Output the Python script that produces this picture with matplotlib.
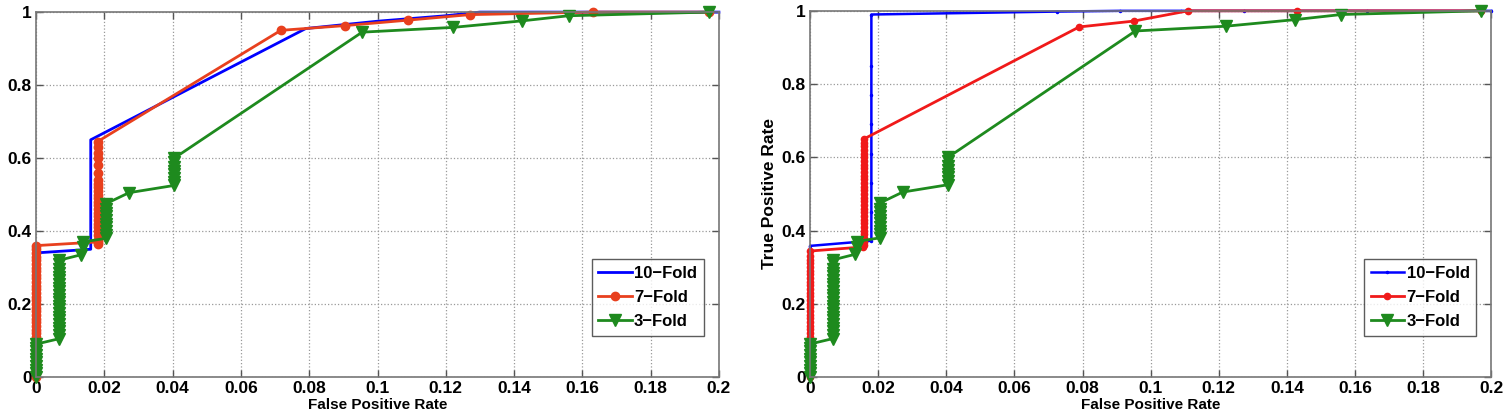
import matplotlib
matplotlib.use("Agg")
import matplotlib.pyplot as plt

plt.rcParams['font.family'] = ['Liberation Sans', 'DejaVu Sans']
plt.rcParams['font.weight'] = 'bold'

# ---- left panel ----
blue_l_x = [0.0, 0.0, 0.016, 0.016, 0.079, 0.100, 0.120, 0.130, 0.200]
blue_l_y = [0.0, 0.34, 0.35, 0.65, 0.955, 0.975, 0.99, 1.0, 1.0]

red_l_x = [0.0, 0.0, 0.0, 0.0, 0.0, 0.0, 0.0, 0.0, 0.0, 0.0, 0.0, 0.0, 0.0, 0.0, 0.0, 0.0, 0.0, 0.0, 0.0,
           0.0, 0.0, 0.0, 0.0, 0.0, 0.0, 0.0, 0.0, 0.0, 0.0, 0.0, 0.0, 0.0, 0.0, 0.0, 0.0, 0.0, 0.0,
           0.018, 0.018, 0.018, 0.018, 0.018, 0.018, 0.018, 0.018, 0.018, 0.018, 0.018, 0.018, 0.018, 0.018,
           0.018, 0.018, 0.018, 0.018, 0.018, 0.018, 0.018, 0.018, 0.018, 0.018, 0.018,
           0.0717, 0.0905, 0.109, 0.127, 0.163, 0.197]
red_l_y = [0.0, 0.01, 0.02, 0.03, 0.04, 0.05, 0.06, 0.07, 0.08, 0.09, 0.10, 0.11, 0.12, 0.13, 0.14, 0.15, 0.16, 0.17, 0.18,
           0.19, 0.20, 0.21, 0.22, 0.23, 0.24, 0.25, 0.26, 0.27, 0.28, 0.29, 0.30, 0.31, 0.32, 0.33, 0.34, 0.35, 0.36,
           0.37, 0.365, 0.375, 0.39, 0.40, 0.41, 0.42, 0.43, 0.44, 0.45, 0.46, 0.47, 0.48, 0.49,
           0.50, 0.51, 0.52, 0.53, 0.54, 0.56, 0.58, 0.60, 0.615, 0.63, 0.645,
           0.95, 0.963, 0.978, 0.993, 1.0, 1.0]

# 3-Fold curve is the same in both panels
green_x = [0.0, 0.0, 0.0, 0.0, 0.0, 0.0, 0.0, 0.0, 0.0, 0.0,
           0.0068, 0.0068, 0.0068, 0.0068, 0.0068, 0.0068, 0.0068, 0.0068, 0.0068, 0.0068, 0.0068, 0.0068,
           0.0068, 0.0068, 0.0068, 0.0068, 0.0068, 0.0068, 0.0068, 0.0068, 0.0068, 0.0068,
           0.0132, 0.0137, 0.0137, 0.0205, 0.0205, 0.0205, 0.0205, 0.0205, 0.0205, 0.0205, 0.0205, 0.0205, 0.0205,
           0.0272, 0.0405, 0.0405, 0.0405, 0.0405, 0.0405, 0.0405, 0.0405, 0.0405,
           0.0955, 0.122, 0.1424, 0.156, 0.197]
green_y = [0.0, 0.01, 0.02, 0.03, 0.04, 0.05, 0.06, 0.07, 0.08, 0.09,
           0.105, 0.115, 0.125, 0.135, 0.145, 0.155, 0.165, 0.175, 0.185, 0.195, 0.205, 0.215,
           0.225, 0.235, 0.245, 0.255, 0.265, 0.275, 0.285, 0.295, 0.31, 0.32,
           0.335, 0.355, 0.37, 0.38, 0.39, 0.40, 0.41, 0.42, 0.43, 0.44, 0.45, 0.46, 0.475,
           0.505, 0.525, 0.535, 0.545, 0.555, 0.565, 0.575, 0.59, 0.60,
           0.945, 0.958, 0.976, 0.99, 1.0]

# ---- right panel ----
blue_r_x = [0.0, 0.0, 0.0, 0.0, 0.0, 0.018, 0.018, 0.018, 0.018, 0.018, 0.018, 0.018, 0.018,
            0.0725, 0.091, 0.109, 0.1275, 0.1636, 0.2]
blue_r_y = [0.0, 0.09, 0.18, 0.27, 0.358, 0.372, 0.45, 0.53, 0.61, 0.69, 0.77, 0.85, 0.99,
            0.998, 1.0, 1.0, 1.0, 1.0, 1.0]

red_r_x = [0.0, 0.0, 0.0, 0.0, 0.0, 0.0, 0.0, 0.0, 0.0, 0.0, 0.0, 0.0, 0.0, 0.0, 0.0, 0.0, 0.0, 0.0,
           0.0, 0.0, 0.0, 0.0, 0.0, 0.0, 0.0, 0.0, 0.0, 0.0, 0.0, 0.0, 0.0, 0.0, 0.0, 0.0, 0.0,
           0.0155, 0.0158, 0.0158, 0.0158, 0.0158, 0.0158, 0.0158, 0.0158, 0.0158, 0.0158, 0.0158, 0.0158,
           0.0158, 0.0158, 0.0158, 0.0158, 0.0158, 0.0158, 0.0158, 0.0158, 0.0158, 0.0158, 0.0158, 0.0158,
           0.0158, 0.0158, 0.0158, 0.0158, 0.0158, 0.0158, 0.0158,
           0.079, 0.095, 0.111, 0.143, 0.197]
red_r_y = [0.0, 0.01, 0.02, 0.03, 0.04, 0.05, 0.06, 0.07, 0.08, 0.09, 0.10, 0.11, 0.12, 0.13, 0.14, 0.15, 0.16, 0.17,
           0.18, 0.19, 0.20, 0.21, 0.22, 0.23, 0.24, 0.25, 0.26, 0.27, 0.28, 0.29, 0.30, 0.31, 0.32, 0.33, 0.344,
           0.355, 0.36, 0.37, 0.38, 0.39, 0.40, 0.41, 0.42, 0.43, 0.44, 0.45, 0.46,
           0.47, 0.48, 0.49, 0.50, 0.51, 0.52, 0.53, 0.54, 0.55, 0.56, 0.57, 0.58,
           0.59, 0.60, 0.61, 0.62, 0.63, 0.64, 0.65,
           0.956, 0.972, 1.0, 1.0, 1.0]

labels = ['10\u2212Fold', '7\u2212Fold', '3\u2212Fold']
xticks = [0, 0.02, 0.04, 0.06, 0.08, 0.1, 0.12, 0.14, 0.16, 0.18, 0.2]
xticklabels = ['0', '0.02', '0.04', '0.06', '0.08', '0.1', '0.12', '0.14', '0.16', '0.18', '0.2']
yticks = [0, 0.2, 0.4, 0.6, 0.8, 1]
yticklabels = ['0', '0.2', '0.4', '0.6', '0.8', '1']

blue = '#0000ff'
green = '#1e8a1e'
red_left = '#e8401e'
red_right = '#f01a1a'

fig = plt.figure(figsize=(15.04, 4.17), dpi=100)
ax1 = fig.add_axes([0.024, 0.096, 0.454, 0.875])
ax2 = fig.add_axes([0.5386, 0.096, 0.453, 0.878])


def style(ax, ylabelpad):
    ax.set_xlim(0, 0.2)
    ax.set_ylim(0, 1)
    ax.set_xticks(xticks)
    ax.set_xticklabels(xticklabels)
    ax.set_yticks(yticks)
    ax.set_yticklabels(yticklabels)
    ax.tick_params(direction='in', top=True, right=True, length=5, width=1,
                   labelsize=12.5, color='#555555', pad=3)
    ax.grid(True, linestyle=':', color='#999999', linewidth=0.9)
    for s in ax.spines.values():
        s.set_color('#777777')
        s.set_linewidth(1.2)
    ax.set_xlabel('False Positive Rate', fontsize=11, fontweight='bold', labelpad=1)
    ax.set_ylabel('True Positive Rate', fontsize=12.5, fontweight='bold', labelpad=ylabelpad)
    leg = ax.legend(loc='lower right', fontsize=12, handlelength=2.0, borderpad=0.4,
                    labelspacing=0.55, handletextpad=0.15, fancybox=False,
                    bbox_to_anchor=(0.99, 0.09))
    leg.get_frame().set_edgecolor('#333333')
    leg.get_frame().set_linewidth(1.0)


ax1.plot(blue_l_x, blue_l_y, color=blue, lw=2, label=labels[0], clip_on=False)
ax1.plot(red_l_x, red_l_y, color=red_left, lw=2, marker='o', ms=6, label=labels[1], clip_on=False)
ax1.plot(green_x, green_y, color=green, lw=2, marker='v', ms=8.5, label=labels[2], clip_on=False)
style(ax1, 4)

ax2.plot(blue_r_x, blue_r_y, color=blue, lw=1.8, marker='.', ms=3, label=labels[0], clip_on=False)
ax2.plot(red_r_x, red_r_y, color=red_right, lw=2, marker='o', ms=4.5, label=labels[1], clip_on=False)
ax2.plot(green_x, green_y, color=green, lw=2, marker='v', ms=8.5, label=labels[2], clip_on=False)
style(ax2, 3)

fig.savefig('out.png', dpi=100)
